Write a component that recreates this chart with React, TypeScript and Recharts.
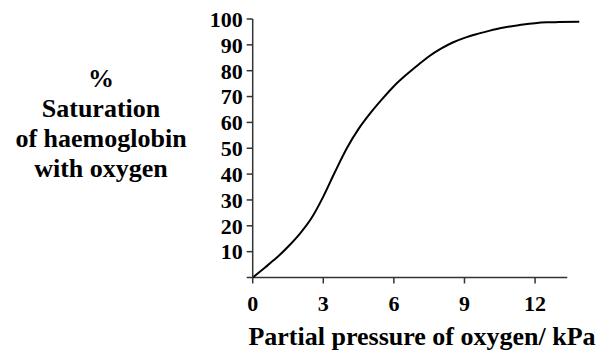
import React from "react";
import { LineChart, Line, XAxis, YAxis, ReferenceLine, Label } from "recharts";

const pressureKPa = [0, 0.5, 1, 1.5, 2, 2.5, 3, 3.5, 4, 4.5, 5, 5.5, 6, 6.5, 7, 7.5, 8, 8.5, 9, 9.5, 10, 10.5, 11, 11.5, 12, 12.5, 13, 13.88];
const saturationPct = [0, 3.7, 7.5, 11.9, 16.9, 23, 31.3, 40.9, 50, 57.5, 63.6, 69, 74, 78.2, 82, 85.6, 88.5, 90.9, 92.7, 94.1, 95.3, 96.4, 97.2, 97.9, 98.4, 98.7, 98.8, 98.9];
const xTicks = [0, 3, 6, 9, 12];
const yTicks = [0, 10, 20, 30, 40, 50, 60, 70, 80, 90, 100];
const yLabelLines = ["%", "Saturation", "of haemoglobin", "with oxygen"];
const xLabelText = "Partial pressure of oxygen/ kPa";
const axisEndKPa = 13.37;

const data = pressureKPa.map((p, i) => ({ p, s: saturationPct[i] }));

const FONT = "'Liberation Serif', Tinos, 'Noto Serif', 'DejaVu Serif', FreeSerif, Times, 'Times New Roman', serif";
const AXIS = "#333";

export default function App() {
  return (
    <div style={{ position: "absolute", left: 0, top: 0, fontFamily: FONT }}>
      <LineChart width={606} height={351} data={data} margin={{ top: 19, right: 26.7, bottom: 0, left: 0 }}>
        <XAxis
          dataKey="p"
          type="number"
          domain={[0, 13.88]}
          ticks={xTicks}
          interval={0}
          axisLine={false}
          tickSize={6}
          tickMargin={12}
          height={73.5}
          tickLine={{ stroke: AXIS, strokeWidth: 1.5 }}
          tick={{ fill: "#000", fontSize: 22, fontWeight: "bold", fontFamily: FONT }}
        >
          <Label
            content={(props: any) => {
              const vb = props.viewBox || {};
              return (
                <text
                  x={vb.x + vb.width / 2 + 6}
                  y={vb.y + 67}
                  textAnchor="middle"
                  fill="#000"
                  fontSize={26}
                  fontWeight="bold"
                  fontFamily={FONT}
                >
                  {xLabelText}
                </text>
              );
            }}
          />
        </XAxis>
        <YAxis
          type="number"
          domain={[0, 100]}
          ticks={yTicks}
          interval={0}
          width={252.7}
          tickSize={6}
          tickMargin={4}
          axisLine={{ stroke: AXIS, strokeWidth: 1.5 }}
          tickLine={{ stroke: AXIS, strokeWidth: 1.5 }}
          tickFormatter={(v: number) => (v === 0 ? "" : String(v))}
          tick={{ fill: "#000", fontSize: 22, fontWeight: "bold", fontFamily: FONT }}
        >
          <Label
            content={() => (
              <text textAnchor="middle" fill="#000" fontSize={26} fontWeight="bold" fontFamily={FONT}>
                {yLabelLines.map((t, i) => (
                  <tspan key={i} x={101} y={86.5 + i * 30}>
                    {t}
                  </tspan>
                ))}
              </text>
            )}
          />
        </YAxis>
        <ReferenceLine
          segment={[{ x: 0, y: 0 }, { x: axisEndKPa, y: 0 }]}
          stroke={AXIS}
          strokeWidth={1.5}
          ifOverflow="visible"
        />
        <Line
          type="monotone"
          dataKey="s"
          stroke="#000"
          strokeWidth={2}
          dot={false}
          isAnimationActive={false}
        />
      </LineChart>
    </div>
  );
}
